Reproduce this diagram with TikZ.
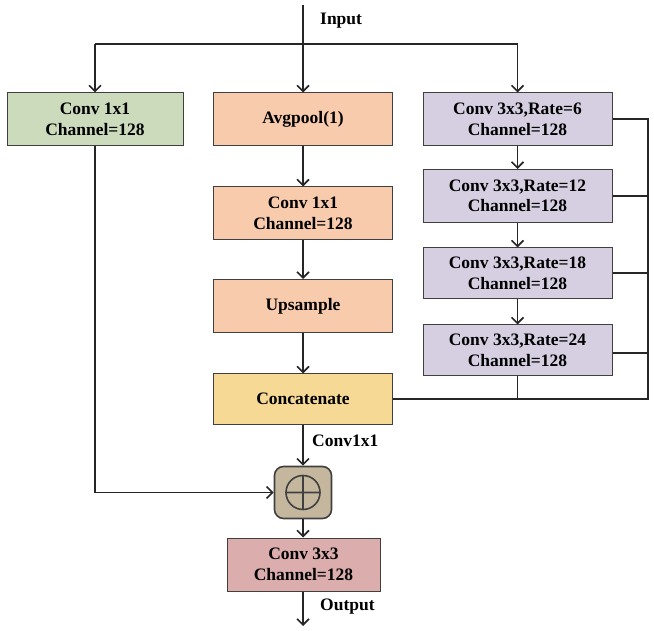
\documentclass[tikz,border=0pt]{standalone}
\usepackage{fontspec}
\setmainfont{Liberation Serif}
\usetikzlibrary{arrows.meta}
\definecolor{cgreen}{HTML}{CCDBBC}
\definecolor{corange}{HTML}{F8CBAD}
\definecolor{cpurple}{HTML}{D6CFE2}
\definecolor{cyellow}{HTML}{F5D995}
\definecolor{cpink}{HTML}{DBADAD}
\definecolor{cplus}{HTML}{C5B79E}
\definecolor{cedge}{HTML}{404040}
\tikzset{
  blk/.style={draw=cedge, line width=1pt, minimum height=53pt, inner sep=0pt, align=center,
    font=\bfseries\fontsize{17.5}{20.5}\selectfont},
  wire/.style={line width=1.8pt, draw=black!85},
  arr/.style={wire, -{Straight Barb[length=6pt,width=12pt,line width=1.6pt]}},
  lbl/.style={font=\bfseries\fontsize{17.5}{20.5}\selectfont, inner sep=0pt}
}
\begin{document}
\begin{tikzpicture}[x=1pt,y=-1pt]
\useasboundingbox (0,0) rectangle (654,631);
% nodes
\node[blk, fill=cgreen, minimum width=176pt] (g) at (95,119.5) {Conv 1x1\\Channel=128};
\node[blk, fill=corange, minimum width=179pt] (avg) at (303,119.5) {Avgpool(1)};
\node[blk, fill=corange, minimum width=179pt] (c1) at (303,213.5) {Conv 1x1\\Channel=128};
\node[blk, fill=corange, minimum width=179pt] (up) at (303,306) {Upsample};
\node[blk, fill=cyellow, minimum width=179pt, minimum height=50pt] (cat) at (303,399) {Concatenate};
\node[blk, fill=cpurple, minimum width=189pt] (p1) at (517.5,119.5) {Conv 3x3,Rate=6\\Channel=128};
\node[blk, fill=cpurple, minimum width=189pt] (p2) at (517.5,196) {Conv 3x3,Rate=12\\Channel=128};
\node[blk, fill=cpurple, minimum width=189pt, minimum height=51pt] (p3) at (517.5,273.5) {Conv 3x3,Rate=18\\Channel=128};
\node[blk, fill=cpurple, minimum width=189pt, minimum height=51pt] (p4) at (517.5,350.5) {Conv 3x3,Rate=24\\Channel=128};
\node[draw=cedge, line width=1.6pt, fill=cplus, rounded corners=9pt, minimum width=57pt, minimum height=52pt] (plus) at (303,492.5) {};
\draw[cedge, line width=1.6pt] (plus.center) circle (17pt)
  (plus.center) ++(-17,0) -- ++(34,0) (plus.center) ++(0,-17) -- ++(0,34);
\node[blk, fill=cpink, minimum width=153pt] (out) at (303.5,564.5) {Conv 3x3\\Channel=128};
% labels
\node[lbl, anchor=west] (tin) at (320,21) {Input};
\node[lbl, anchor=west] (tconv) at (312,441) {Conv1x1};
\node[lbl, anchor=west] (tout) at (320,607) {Output};
% coordinates
\coordinate (top) at (303,5);
\coordinate (bl) at (95,44);
\coordinate (br) at (517.5,44);
\coordinate (bm) at (303,44);
\coordinate (end) at (303,626);
\coordinate (rb) at (648,399);
% input distribution
\draw[wire] (top) -- (bm);
\draw[wire] (bl) -- (br);
\draw[arr] (bl) -- (g.north);
\draw[arr] (bm) -- (avg.north);
\draw[arr] (br) -- (p1.north);
% middle chain
\draw[arr] (avg) -- (c1);
\draw[arr] (c1) -- (up);
\draw[arr] (up) -- (cat);
\draw[arr] (cat) -- (plus);
\draw[arr] (plus) -- (plus |- out.north);
\draw[arr] (plus |- out.south) -- (end);
% purple chain
\draw[arr] (p1) -- (p2);
\draw[arr] (p2) -- (p3);
\draw[arr] (p3) -- (p4);
% right bus
\draw[wire] (p1.east |- 0,119) -- (648,119) -- (rb) -- (cat.east);
\draw[wire] (p2.east) -- (648,196);
\draw[wire] (p3.east |- 0,273) -- (648,273);
\draw[wire] (p4.east |- 0,353) -- (648,353);
\draw[wire] (p4.south) -- (p4.south |- rb);
% left path
\draw[arr] (g.south) |- (plus.west);
\end{tikzpicture}
\end{document}
